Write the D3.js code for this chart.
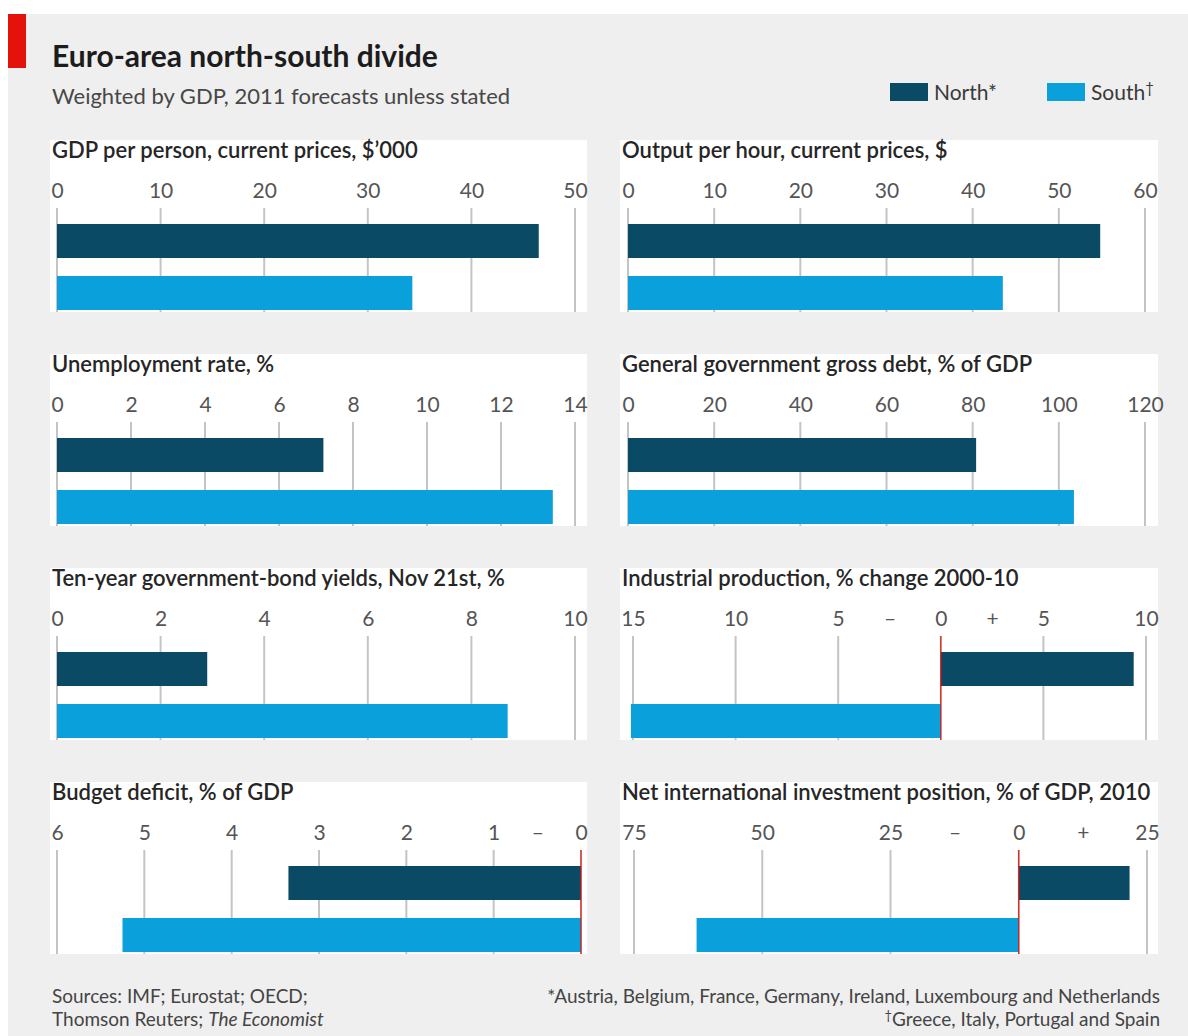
<!DOCTYPE html>
<html>
<head>
<meta charset="utf-8">
<script src="https://cdn.jsdelivr.net/npm/d3@7"></script>
<style>
  html, body { margin: 0; padding: 0; background: #fff; }
  svg { display: block; font-family: Lato, "Open Sans", sans-serif; }
</style>
</head>
<body>
<svg id="chart" width="1188" height="1036"></svg>
<script>
// Eight small-multiple panels comparing the euro area's north and south
const panelTitles = [
  "GDP per person, current prices, $\u2019000",
  "Output per hour, current prices, $",
  "Unemployment rate, %",
  "General government gross debt, % of GDP",
  "Ten-year government-bond yields, Nov 21st, %",
  "Industrial production, % change 2000-10",
  "Budget deficit, % of GDP",
  "Net international investment position, % of GDP, 2010"
];

const northValues = [46.5, 54.8, 7.2, 80.8, 2.9, 9.4, 3.35, 21.6];
const southValues = [34.3, 43.5, 13.4, 103.5, 8.7, -15.1, 5.25, -62.8];

const axisDomains = [
  [0, 50], [0, 60], [0, 14], [0, 120], [0, 10], [-15, 10], [6, 0], [-75, 25]
];

const tickValues = [
  [0, 10, 20, 30, 40, 50],
  [0, 10, 20, 30, 40, 50, 60],
  [0, 2, 4, 6, 8, 10, 12, 14],
  [0, 20, 40, 60, 80, 100, 120],
  [0, 2, 4, 6, 8, 10],
  [-15, -10, -5, -2.5, 0, 2.5, 5, 10],
  [6, 5, 4, 3, 2, 1, 0.5, 0],
  [-75, -50, -25, -12.5, 0, 12.5, 25]
];

const tickLabels = [
  ["0", "10", "20", "30", "40", "50"],
  ["0", "10", "20", "30", "40", "50", "60"],
  ["0", "2", "4", "6", "8", "10", "12", "14"],
  ["0", "20", "40", "60", "80", "100", "120"],
  ["0", "2", "4", "6", "8", "10"],
  ["15", "10", "5", "\u2013", "0", "+", "5", "10"],
  ["6", "5", "4", "3", "2", "1", "\u2013", "0"],
  ["75", "50", "25", "\u2013", "0", "+", "25"]
];

const seriesNames = ["North", "South"];
const seriesMarks = ["*", "\u2020"];

// ---- layout and styling ----
const NORTH = "#0a4a64";
const SOUTH = "#0aa0dc";
const RED = "#e3120b";
const GRID = "#c4c4c4";

const svg = d3.select("#chart");

svg.append("rect").attr("x", 8).attr("y", 14).attr("width", 1180).attr("height", 1022).attr("fill", "#efefef");
svg.append("rect").attr("x", 8).attr("y", 14).attr("width", 18).attr("height", 54).attr("fill", RED);

svg.append("text").attr("x", 52).attr("y", 67)
  .attr("font-size", 30).attr("font-weight", 700).attr("fill", "#1c1c1c")
  .text("Euro-area north-south divide");
svg.append("text").attr("x", 52).attr("y", 104)
  .attr("font-size", 22).attr("fill", "#474747")
  .text("Weighted by GDP, 2011 forecasts unless stated");

// legend
const legendX = [890, 1047];
seriesNames.forEach((name, k) => {
  svg.append("rect").attr("x", legendX[k]).attr("y", 83).attr("width", 38).attr("height", 18)
    .attr("fill", k === 0 ? NORTH : SOUTH);
  const t = svg.append("text").attr("x", legendX[k] + 44).attr("y", 100)
    .attr("font-size", 21).attr("fill", "#3a3a3a");
  t.append("tspan").text(name);
  if (k === 0) {
    t.append("tspan").text(seriesMarks[k]);
  } else {
    t.append("tspan").attr("font-size", 15).attr("dy", -7).text(seriesMarks[k]);
  }
});

const rowTops = [140, 354, 568, 782];
const colBox = [[50, 587], [620, 1158]];
const xRanges = [
  [57, 575], [628, 1145], [57, 575], [628, 1145],
  [57, 575], [633, 1146], [57, 581], [634, 1147]
];
const BOX_H = 172;

panelTitles.forEach((title, i) => {
  const col = i % 2, row = Math.floor(i / 2);
  const top = rowTops[row];
  const g = svg.append("g");

  g.append("rect").attr("x", colBox[col][0]).attr("y", top)
    .attr("width", colBox[col][1] - colBox[col][0]).attr("height", BOX_H).attr("fill", "#fff");

  g.append("text").attr("x", colBox[col][0] + 2).attr("y", top + 18)
    .attr("font-size", 22).attr("font-weight", 600).attr("fill", "#262626")
    .text(title);

  const x = d3.scaleLinear().domain(axisDomains[i]).range(xRanges[i]);
  const labels = tickLabels[i];

  const axis = g.append("g").attr("transform", `translate(0,${top + 58})`)
    .call(d3.axisTop(x).tickValues(tickValues[i])
      .tickFormat((d, j) => labels[j]).tickSize(0).tickPadding(0));
  axis.select(".domain").remove();
  axis.selectAll("text").attr("font-size", 21).attr("fill", "#555")
    .attr("font-family", "Lato, 'Open Sans', sans-serif");

  const gridTop = top + 68, gridBottom = top + BOX_H;
  const zeroRed = x(0) !== xRanges[i][0];
  const gridVals = tickValues[i].filter((d, j) => labels[j] !== "\u2013" && labels[j] !== "+");

  g.selectAll("line.grid").data(gridVals).join("line").attr("class", "grid")
    .attr("x1", d => x(d)).attr("x2", d => x(d))
    .attr("y1", gridTop).attr("y2", gridBottom)
    .attr("stroke", GRID).attr("stroke-width", 2);

  const bars = [northValues[i], southValues[i]];
  g.selectAll("rect.bar").data(bars).join("rect").attr("class", "bar")
    .attr("x", d => Math.min(x(0), x(d)))
    .attr("width", d => Math.abs(x(d) - x(0)))
    .attr("y", (d, k) => top + 84 + k * 52)
    .attr("height", 34)
    .attr("fill", (d, k) => k === 0 ? NORTH : SOUTH);

  if (zeroRed) {
    g.append("line").attr("x1", x(0)).attr("x2", x(0))
      .attr("y1", gridTop).attr("y2", gridBottom)
      .attr("stroke", RED).attr("stroke-width", 1.2);
  }
});

// footnotes
const foot = svg.append("g").attr("font-size", 19).attr("fill", "#444");
foot.append("text").attr("x", 52).attr("y", 1003).text("Sources: IMF; Eurostat; OECD;");
const src2 = foot.append("text").attr("x", 52).attr("y", 1026);
src2.append("tspan").text("Thomson Reuters; ");
src2.append("tspan").attr("font-style", "italic").text("The Economist");

foot.append("text").attr("x", 1160).attr("y", 1003).attr("text-anchor", "end")
  .text("*Austria, Belgium, France, Germany, Ireland, Luxembourg and Netherlands");
const n2 = foot.append("text").attr("x", 1160).attr("y", 1026).attr("text-anchor", "end");
n2.append("tspan").attr("font-size", 13).attr("dy", -6).text("\u2020");
n2.append("tspan").attr("dy", 6).text("Greece, Italy, Portugal and Spain");
</script>
</body>
</html>
